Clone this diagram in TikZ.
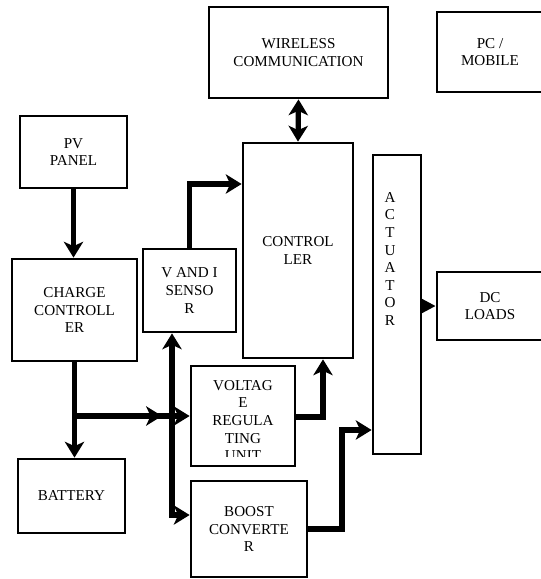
\documentclass[tikz,border=0pt]{standalone}
\usepackage{fontspec}
\setmainfont{Liberation Serif}
\usetikzlibrary{arrows.meta,decorations.markings,calc}
\tikzset{
  block/.style={
    draw,
    line width=1.6pt,
    inner sep=0pt,
    align=center,
    font=\fontsize{8.6}{10}\selectfont
  },
  blocktext/.style={
    inner sep=0pt,
    align=center,
    font=\fontsize{8.6}{10}\selectfont
  },
  link/.style={
    line width=3pt,
    -{Stealth[length=9pt,width=11pt,inset=2.5pt]}
  },
  twolink/.style={
    line width=3pt,
    {Stealth[length=9pt,width=11pt,inset=2.5pt]}-{Stealth[length=9pt,width=11pt,inset=2.5pt]}
  },
  midtip/.style={
    postaction={decorate},
    decoration={markings,
      mark=at position #1 with {\arrow{Stealth[length=9pt,width=11pt,inset=2.5pt]}}}
  }
}

\begin{document}
\begin{tikzpicture}[x=0.02cm,y=-0.02cm]
    \useasboundingbox (0,0) rectangle (541,579);
    % blocks
    \node[block,minimum width=2.14cm,minimum height=1.44cm] (pv) at (73.5,152) {PV\\PANEL};
    \node[block,minimum width=2.5cm,minimum height=2.04cm] (cc) at (74.5,310) {CHARGE\\CONTROLL\\ER};
    \node[block,minimum width=2.14cm,minimum height=1.48cm] (bat) at (71.5,496) {BATTERY};
    \node[block,minimum width=1.86cm,minimum height=1.66cm] (sen) at (189.5,290.5) {V AND I\\SENSO\\R};
    \node[block,minimum width=2.2cm,minimum height=4.3cm] (ctrl) at (298,250.5) {CONTROL\\LER};
    \node[block,minimum width=2.08cm,minimum height=2.0cm] (vru) at (243,416) {};
    \node[block,minimum width=2.32cm,minimum height=1.92cm] (bst) at (249,529) {BOOST\\CONVERTE\\R};
    \node[block,minimum width=3.58cm,minimum height=1.82cm] (wc) at (298.5,52.5) {WIRELESS\\COMMUNICATION};
    \node[block,minimum width=2.12cm,minimum height=1.6cm] (pc) at (490,52) {PC /\\MOBILE};
    \node[block,minimum width=0.96cm,minimum height=5.98cm] (act) at (397,304.5) {};
    \node[block,minimum width=2.12cm,minimum height=1.36cm] (dc) at (490,306) {DC\\LOADS};
    % texts that do not sit in the middle
    \node[blocktext,anchor=north] (acttext) at (390,192) {A\\C\\T\\U\\A\\T\\O\\R};
    \begin{scope}
        \clip ([shift={(2pt,-2pt)}]vru.north west) rectangle ([shift={(-2pt,6.2pt)}]vru.south east);
        \node[blocktext,anchor=north] (vrutext) at (243,380) {VOLTAG\\E\\REGULA\\TING\\UNIT};
    \end{scope}
    % turning points
    \coordinate (senup) at (189.5,184);
    \coordinate (bus) at (172,515);
    \coordinate (vrup) at (323,417);
    \coordinate (bstup) at (342,430);
    % links
    \draw[link] (pv.south) -- (pv.south |- cc.north);
    \draw[twolink] (wc.south) -- (ctrl.north);
    \draw[link] (sen.north) |- (senup -| ctrl.west);
    \draw[link] (cc.south) -- (cc.south |- bat.north);
    \draw[link,midtip=0.76] (cc.south |- vru.west) -- (vru.west);
    \draw[twolink] (bus |- sen.south) |- (bus -| bst.west);
    \draw[link] (vru.east |- vrup) -| (vrup |- ctrl.south);
    \draw[link] (bst.east) -| (bstup) -- (bstup -| act.west);
    \draw[line width=1.6pt,-{Triangle[length=8pt,width=8pt]}] (act.east |- dc.west) -- (dc.west);
\end{tikzpicture}
\end{document}
